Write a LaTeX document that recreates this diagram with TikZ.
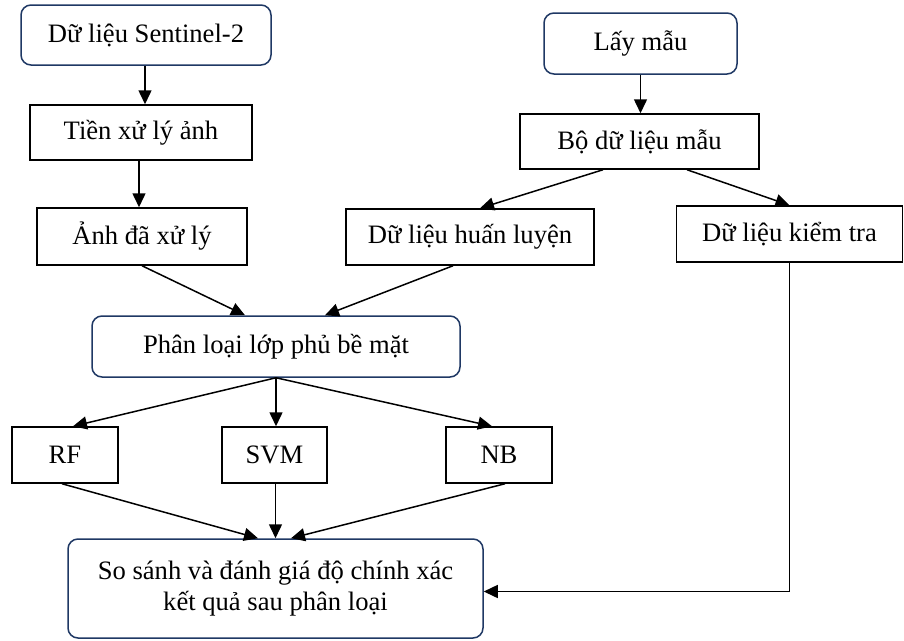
\documentclass[tikz,border=0pt]{standalone}
\usepackage{fontspec}
\setmainfont{Liberation Serif}
\usetikzlibrary{arrows.meta}
\definecolor{khung}{RGB}{31,56,100}
\begin{document}
\begin{tikzpicture}[x=1pt,y=-1pt,>={Triangle[length=14pt,width=13pt]},line width=1.5pt,
		font=\fontsize{26.6}{30.5}\selectfont,
		hop/.style={draw,inner sep=0pt},
		hopbo/.style={draw=khung,rounded corners=10pt,inner sep=0pt,align=center}]
			\useasboundingbox (0,0) rectangle (904,640);
			% cot trai
			\node[hopbo,minimum width=250pt,minimum height=60pt] (sen) at (146,35) {Dữ liệu Sentinel-2};
			\node[hop,minimum width=222pt,minimum height=55pt] (tienxl) at (141,132.5) {Tiền xử lý ảnh};
			\node[hop,minimum width=210pt,minimum height=57pt] (anhxl) at (142,236.5) {Ảnh đã xử lý};
			% cot phai
			\node[hopbo,minimum width=193pt,minimum height=61pt] (laymau) at (640.5,43.5) {Lấy mẫu};
			\node[hop,minimum width=239pt,minimum height=55pt] (bomau) at (639.5,141.5) {Bộ dữ liệu mẫu};
			\node[hop,minimum width=248pt,minimum height=56pt] (huanluyen) at (470,237) {Dữ liệu huấn luyện};
			\node[hop,minimum width=226pt,minimum height=56pt] (kiemtra) at (789.5,234) {Dữ liệu kiểm tra};
			% phan loai
			\node[hopbo,minimum width=368pt,minimum height=61pt] (phanloai) at (276,346.5) {Phân loại lớp phủ bề mặt};
			\node[hop,minimum width=106pt,minimum height=56pt] (rf) at (65,455) {RF};
			\node[hop,minimum width=105pt,minimum height=56pt] (svm) at (274.5,455) {SVM};
			\node[hop,minimum width=106pt,minimum height=56pt] (nb) at (499,455) {NB};
			\node[hopbo,minimum width=415pt,minimum height=99pt] (sosanh) at (275.5,588.5) {So sánh và đánh giá độ chính xác\\kết quả sau phân loại};
			% mui ten
			\draw[->] (sen.south -|145,0) -- (tienxl.north -|145,0);
			\draw[->] (tienxl.south -|139,0) -- (anhxl.north -|139,0);
			\draw[->] (laymau) -- (laymau |- bomau.north);
			\draw[->] ([xshift=-36.5pt]bomau.south) -- ([xshift=10pt]huanluyen.north);
			\draw[->] ([xshift=47.5pt]bomau.south) -- (kiemtra.north);
			\draw[->] (anhxl.south) -- ([xshift=-31pt]phanloai.north);
			\draw[->] ([xshift=-17pt]huanluyen.south) -- ([xshift=49pt]phanloai.north);
			\draw[->] (phanloai.south) -- ([xshift=8pt]rf.north);
			\draw[->] (phanloai.south) -- (phanloai.south |- svm.north);
			\draw[->] (phanloai.south) -- ([xshift=-7pt]nb.north);
			\draw[->] ([xshift=-3pt]rf.south) -- ([xshift=-17.5pt]sosanh.north);
			\draw[->] (svm.south -|sosanh.north) -- (sosanh.north);
			\draw[->] ([xshift=6pt]nb.south) -- ([xshift=15.5pt]sosanh.north);
			\draw[->] (kiemtra.south) |- ([yshift=-3pt]sosanh.east);
	\end{tikzpicture}
\end{document}
